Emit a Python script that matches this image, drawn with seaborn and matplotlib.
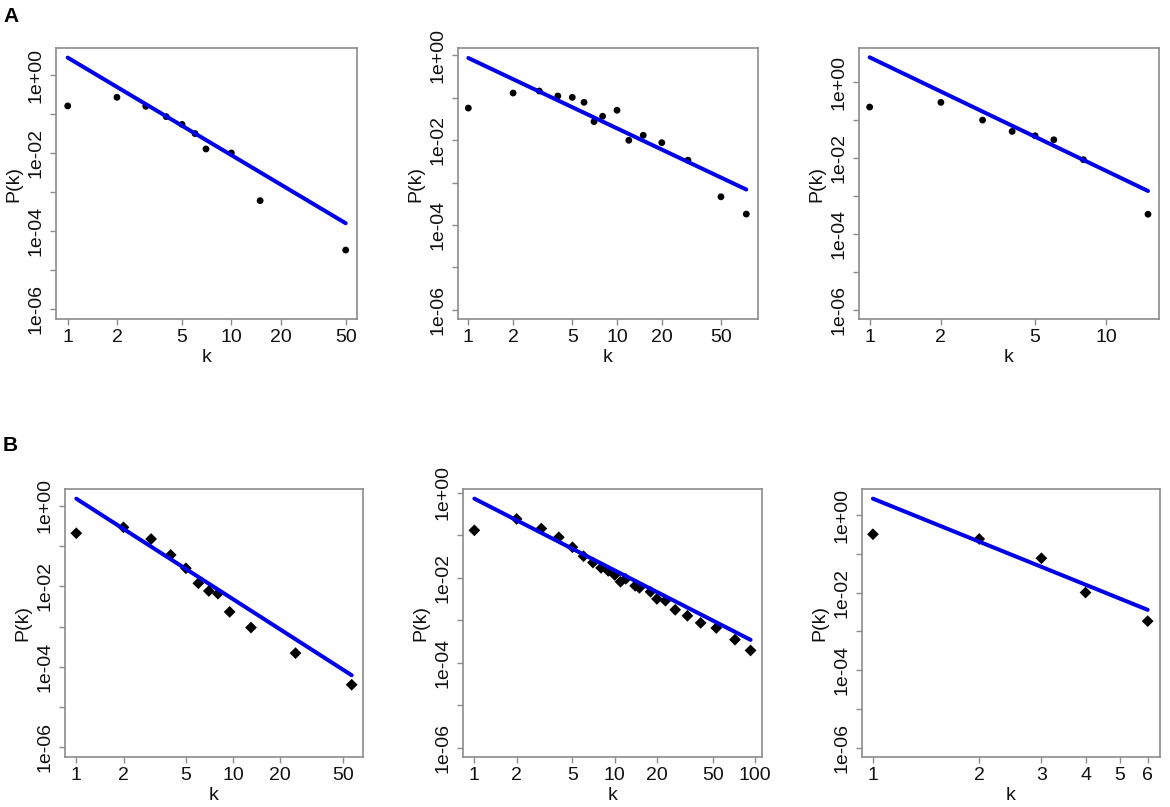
import numpy as np
import pandas as pd
import matplotlib
matplotlib.use("Agg")
import matplotlib.pyplot as plt
import seaborn as sns
from matplotlib.ticker import FixedLocator, FixedFormatter, NullLocator

sns.set_theme(style="white")
plt.rcParams['font.family'] = ['Liberation Sans', 'DejaVu Sans']

# ---------------- data ----------------
a1_k = [1, 2, 3, 4, 5, 6, 7, 10, 15, 50]
a1_p = [0.164, 0.273, 0.16, 0.087, 0.055, 0.032, 0.0129, 0.0102, 6.1e-4, 3.3e-5]
a2_k = [1, 2, 3, 4, 5, 6, 7, 8, 10, 12, 15, 20, 30, 50, 74]
a2_p = [0.057, 0.129, 0.144, 0.110, 0.102, 0.078, 0.0273, 0.0365, 0.0506,
        0.0099, 0.013, 0.0087, 0.00336, 4.6e-4, 1.8e-4]
a3_k = [1, 2, 3, 4, 5, 6, 8, 15]
a3_p = [0.223, 0.296, 0.101, 0.0507, 0.039, 0.0305, 0.0091, 3.3e-4]
b1_k = [1, 2, 3, 4, 5, 6, 7, 8, 9.5, 13, 25, 57]
b1_p = [0.21, 0.295, 0.151, 0.0607, 0.0283, 0.012, 0.0077, 0.0066,
        2.33e-3, 9.5e-4, 2.2e-4, 3.6e-5]
b2_k = [1, 2, 3, 4, 5, 6, 7, 8, 9, 10, 11, 12, 14, 15, 18, 20, 23, 27, 33,
        41, 53, 72, 93]
b2_p = [0.132, 0.245, 0.145, 0.0905, 0.0527, 0.0324, 0.023, 0.0172, 0.0146,
        0.0117, 0.0081, 0.0095, 0.0065, 0.0058, 0.0047, 0.0032, 0.0029,
        0.00177, 0.00128, 8.7e-4, 6.6e-4, 3.5e-4, 1.95e-4]
b3_k = [1, 2, 3, 4, 6]
b3_p = [0.324, 0.245, 0.0778, 0.0101, 0.00185]

# fitted power laws P(k) = c * k^(-gamma)
fit_c = [2.84, 0.865, 4.58, 1.52, 0.736, 2.69]
fit_gamma = [2.50, 1.66, 3.00, 2.50, 1.69, 3.69]

x_ticks = [[1, 2, 5, 10, 20, 50], [1, 2, 5, 10, 20, 50], [1, 2, 5, 10],
           [1, 2, 5, 10, 20, 50], [1, 2, 5, 10, 20, 50, 100], [1, 2, 3, 4, 5, 6]]
y_ticks = [1e-6, 1e-5, 1e-4, 1e-3, 1e-2, 1e-1, 1e0]
y_labels = ["1e-06", "", "1e-04", "", "1e-02", "", "1e+00"]

# log10 axis limits per panel
x_lims = [(-0.0715, 1.768), (-0.0695, 1.948), (-0.045, 1.2225),
          (-0.072, 1.828), (-0.081, 2.05), (-0.031, 0.813)]
y_lims = [(-6.25, 0.70), (-6.22, 0.173), (-6.247, 0.907),
          (-6.24, 0.422), (-6.22, 0.094), (-6.241, 0.679)]

panels = [(a1_k, a1_p), (a2_k, a2_p), (a3_k, a3_p),
          (b1_k, b1_p), (b2_k, b2_p), (b3_k, b3_p)]
markers = ["o", "o", "o", "D", "D", "D"]
msizes = [24, 24, 24, 36, 36, 36]

# axes boxes in pixels: left, top, right, bottom
W, H = 1170, 807
boxes = [(56, 48, 357, 319), (458, 48, 758, 319), (859, 48, 1159, 319),
         (65, 489, 363, 757), (463, 489, 762, 757), (862, 489, 1160, 757)]

fig = plt.figure(figsize=(W / 100, H / 100), dpi=100)
frame_col = "#8c8c8c"
fs = 14

for i, ((k, p), box) in enumerate(zip(panels, boxes)):
    l, t, r, b = box
    wpx, hpx = r - l, b - t
    ax = fig.add_axes([l / W, 1 - b / H, wpx / W, hpx / H])
    df = pd.DataFrame({"k": k, "P": p})
    kmin, kmax = min(k), max(k)
    kk = np.array([kmin, kmax], dtype=float)
    line_df = pd.DataFrame({"k": kk, "P": fit_c[i] * kk ** (-fit_gamma[i])})
    ax.set_xscale("log")
    ax.set_yscale("log")
    sns.scatterplot(data=df, x="k", y="P", ax=ax, color="black",
                    marker=markers[i], s=msizes[i], edgecolor="none", zorder=2)
    sns.lineplot(data=line_df, x="k", y="P", ax=ax, color="#0000e6",
                 linewidth=2.9, zorder=3)
    ax.set_xlim(10 ** x_lims[i][0], 10 ** x_lims[i][1])
    ax.set_ylim(10 ** y_lims[i][0], 10 ** y_lims[i][1])
    ax.xaxis.set_major_locator(FixedLocator(x_ticks[i]))
    ax.xaxis.set_major_formatter(FixedFormatter([str(v) for v in x_ticks[i]]))
    ax.xaxis.set_minor_locator(NullLocator())
    ax.yaxis.set_major_locator(FixedLocator(y_ticks))
    ax.yaxis.set_major_formatter(FixedFormatter(y_labels))
    ax.yaxis.set_minor_locator(NullLocator())
    ax.tick_params(axis="both", which="major", direction="out", length=4.5,
                   width=1.0, color=frame_col, labelsize=fs, labelcolor="#111111",
                   bottom=True, left=True, pad=3)
    ax.tick_params(axis="y", pad=4)
    for lab in ax.get_yticklabels():
        lab.set_rotation(90)
        lab.set_va("center")
    for s in ax.spines.values():
        s.set_color(frame_col)
        s.set_linewidth(1.2)
    ax.set_xlabel("k", fontsize=fs, color="#111111", va="center")
    ax.set_ylabel("P(k)", fontsize=fs, color="#111111", va="center")
    ax.xaxis.set_label_coords(0.5, -39 / hpx)
    ax.yaxis.set_label_coords(-42 / wpx, 0.5)
    ax.grid(False)

fig.text(3 / W, 1 - 16 / H, "A", fontsize=15, fontweight="bold", va="center",
         ha="left", color="black")
fig.text(3 / W, 1 - 445 / H, "B", fontsize=15, fontweight="bold", va="center",
         ha="left", color="black")

fig.savefig("out.png", dpi=100, facecolor="white")
